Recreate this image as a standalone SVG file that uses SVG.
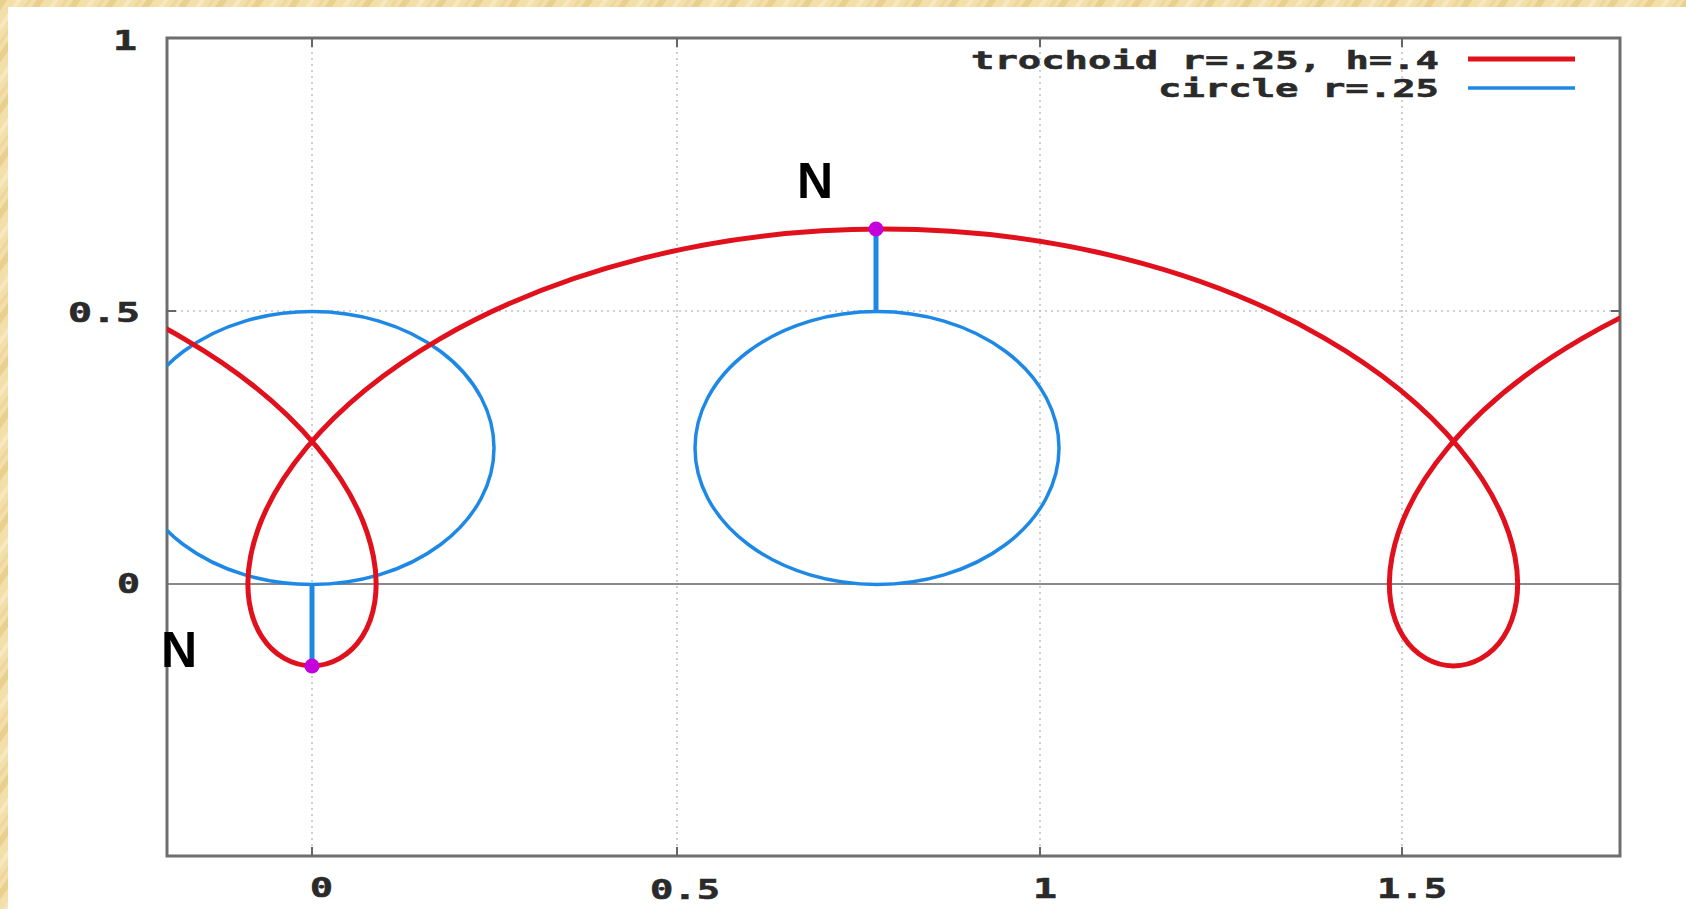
<svg xmlns="http://www.w3.org/2000/svg" width="1686" height="909" viewBox="0 0 1686 909">
<style>
.tick{font-family:"DejaVu Sans Mono","Liberation Mono",monospace;font-weight:bold;font-size:27px;fill:#2a2a2a;stroke:#2a2a2a;stroke-width:0.6;}
.leg{font-family:"DejaVu Sans Mono","Liberation Mono",monospace;font-weight:bold;font-size:24px;fill:#2a2a2a;stroke:#2a2a2a;stroke-width:0.5;}
.nlab{font-family:"Liberation Sans",Arial,sans-serif;font-weight:bold;font-size:50px;fill:#000;}
.grid{stroke:#c0c0c0;stroke-width:1.5;stroke-dasharray:2 4;fill:none;}
.tk{stroke:#666;stroke-width:2;}
.troch{fill:none;stroke:#e0101c;stroke-width:5;stroke-linejoin:round;}
.circ{fill:none;stroke:#1e88e5;stroke-width:3.5;}
.rad{stroke:#1e88e5;stroke-width:5;}
.dot{fill:#c400dc;}
</style>
<defs>
<pattern id="wood" patternUnits="userSpaceOnUse" width="30" height="30" patternTransform="rotate(35)">
<rect width="30" height="30" fill="#f2dfaa"/>
<rect x="0" y="0" width="6" height="30" fill="#ead08e"/>
<rect x="14" y="0" width="4" height="30" fill="#f7e8bf"/>
<rect x="23" y="0" width="3" height="30" fill="#eed79c"/>
</pattern>
<clipPath id="plotclip"><rect x="167" y="38" width="1453" height="818"/></clipPath>
</defs>
<g id="background">
<rect width="1686" height="909" fill="url(#wood)"/>
<rect x="8" y="7" width="1678" height="902" fill="#ffffff"/>
</g>
<g id="grid">
<line class="grid" x1="312" y1="40" x2="312" y2="854"/>
<line class="grid" x1="677" y1="40" x2="677" y2="854"/>
<line class="grid" x1="1040" y1="40" x2="1040" y2="854"/>
<line class="grid" x1="1402" y1="40" x2="1402" y2="854"/>
<line class="grid" x1="169" y1="311" x2="1618" y2="311"/>
<line x1="167" y1="584" x2="1620" y2="584" stroke="#8a8a8a" stroke-width="2"/>
</g>
<g id="axes">
<rect x="167" y="38" width="1453" height="818" fill="none" stroke="#6e6e6e" stroke-width="3"/>
<line class="tk" x1="312" y1="38" x2="312" y2="47"/>
<line class="tk" x1="677" y1="38" x2="677" y2="47"/>
<line class="tk" x1="1040" y1="38" x2="1040" y2="47"/>
<line class="tk" x1="1402" y1="38" x2="1402" y2="47"/>
<line class="tk" x1="312" y1="856" x2="312" y2="847"/>
<line class="tk" x1="677" y1="856" x2="677" y2="847"/>
<line class="tk" x1="1040" y1="856" x2="1040" y2="847"/>
<line class="tk" x1="1402" y1="856" x2="1402" y2="847"/>
<line class="tk" x1="167" y1="311" x2="176" y2="311"/>
<line class="tk" x1="1620" y1="311" x2="1611" y2="311"/>
</g>
<g id="tick-labels">
<text class="tick" x="113" y="50" textLength="24" lengthAdjust="spacingAndGlyphs">1</text>
<text class="tick" x="68" y="322" textLength="72" lengthAdjust="spacingAndGlyphs">0.5</text>
<text class="tick" x="117" y="593" textLength="23" lengthAdjust="spacingAndGlyphs">0</text>
<text class="tick" x="310" y="897" textLength="23" lengthAdjust="spacingAndGlyphs">0</text>
<text class="tick" x="650" y="899" textLength="70" lengthAdjust="spacingAndGlyphs">0.5</text>
<text class="tick" x="1033" y="898" textLength="24" lengthAdjust="spacingAndGlyphs">1</text>
<text class="tick" x="1377" y="898" textLength="70" lengthAdjust="spacingAndGlyphs">1.5</text>
</g>
<g id="curves" clip-path="url(#plotclip)">
<ellipse id="circle-1" class="circ" cx="312" cy="448" rx="182" ry="136.5"/>
<ellipse id="circle-2" class="circ" cx="877" cy="448" rx="182" ry="136.5"/>
<g id="trochoid" transform="matrix(726.7 0 0 -546 312 584)">
<path class="troch" vector-effect="non-scaling-stroke" d="M-0.4545 0.5964 C-0.3504 0.5615 -0.2557 0.5105 -0.1772 0.45 C-0.0987 0.3895 -0.0363 0.3198 0.0073 0.25 C0.0509 0.1802 0.0759 0.1105 0.0846 0.05 C0.0933 -0.0105 0.0859 -0.0615 0.0691 -0.0964 C0.0523 -0.1313 0.0262 -0.15 0 -0.15 C-0.0262 -0.15 -0.0523 -0.1313 -0.0691 -0.0964 C-0.0859 -0.0615 -0.0933 -0.0105 -0.0846 0.05 C-0.0759 0.1105 -0.0509 0.1802 -0.0073 0.25 C0.0363 0.3198 0.0987 0.3895 0.1772 0.45 C0.2557 0.5105 0.3504 0.5615 0.4545 0.5964 C0.5586 0.6313 0.672 0.65 0.7854 0.65 C0.8989 0.65 1.0122 0.6313 1.1163 0.5964 C1.2204 0.5615 1.3151 0.5105 1.3936 0.45 C1.4721 0.3895 1.5345 0.3198 1.5781 0.25 C1.6217 0.1802 1.6467 0.1105 1.6554 0.05 C1.6641 -0.0105 1.6567 -0.0615 1.6399 -0.0964 C1.6231 -0.1313 1.597 -0.15 1.5708 -0.15 C1.5446 -0.15 1.5185 -0.1313 1.5017 -0.0964 C1.4849 -0.0615 1.4775 -0.0105 1.4862 0.05 C1.4949 0.1105 1.5199 0.1802 1.5635 0.25 C1.6071 0.3198 1.6695 0.3895 1.748 0.45 C1.8265 0.5105 1.9212 0.5615 2.0253 0.5964"/>
</g>
</g>
<g id="radius-top">
<line class="rad" x1="876" y1="231" x2="876" y2="312"/>
<circle class="dot" cx="876" cy="229" r="7.5"/>
</g>
<g id="radius-bottom">
<line class="rad" x1="312" y1="584" x2="312" y2="664"/>
<circle class="dot" cx="312" cy="666" r="7.5"/>
</g>
<g id="n-labels">
<text class="nlab" x="797" y="198">N</text>
<text class="nlab" x="161" y="667">N</text>
</g>
<g id="legend">
<text class="leg" x="971" y="69" textLength="468" lengthAdjust="spacingAndGlyphs">trochoid r=.25, h=.4</text>
<line x1="1468" y1="59" x2="1575" y2="59" stroke="#e0101c" stroke-width="5"/>
<text class="leg" x="1158" y="97" textLength="281" lengthAdjust="spacingAndGlyphs">circle r=.25</text>
<line x1="1468" y1="88" x2="1575" y2="88" stroke="#1e88e5" stroke-width="3.5"/>
</g>
</svg>
